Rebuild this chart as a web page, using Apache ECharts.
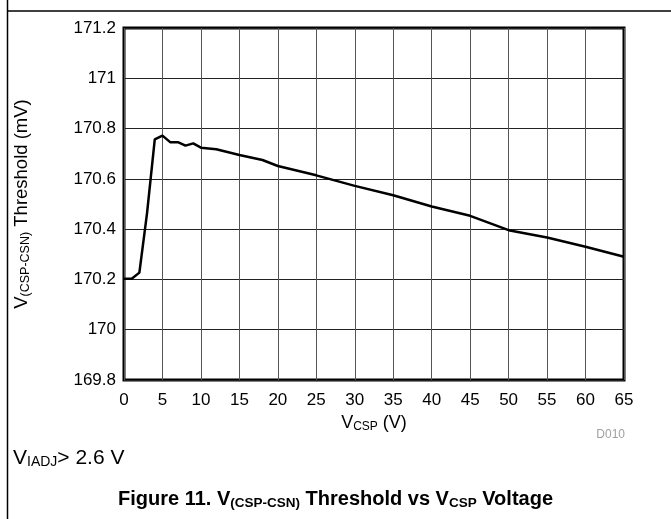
<!DOCTYPE html>
<html>
<head>
<meta charset="utf-8">
<script src="https://cdn.jsdelivr.net/npm/echarts@6/dist/echarts.min.js"></script>
<style>
html,body{margin:0;padding:0;background:#fff;}
#chart{width:671px;height:519px;}
</style>
</head>
<body>
<div id="chart"></div>
<script>
// Data
var vcsp = [0, 1, 2, 3, 4, 5, 6, 7, 8, 9, 10, 12, 15, 18, 20, 25, 30, 35, 40, 45, 50, 55, 60, 65];
var threshold = [170.203, 170.203, 170.227, 170.465, 170.757, 170.772, 170.746, 170.746, 170.732, 170.741, 170.724, 170.718, 170.695, 170.675, 170.651, 170.614, 170.572, 170.535, 170.49, 170.453, 170.396, 170.367, 170.33, 170.29];
var xTicks = {min: 0, max: 65, interval: 5};
var yTicks = {min: 169.8, max: 171.2, interval: 0.2};

var font = 'Liberation Sans, Arial, sans-serif';
var chart = echarts.init(document.getElementById('chart'), null, {renderer: 'canvas'});
var pts = vcsp.map(function (x, i) { return [x, threshold[i]]; });

chart.setOption({
  animation: false,
  backgroundColor: '#fff',
  grid: {left: 124, right: 47, top: 28, bottom: 139, containLabel: false,
         show: true, borderColor: '#000', borderWidth: 3, backgroundColor: 'transparent'},
  xAxis: {
    type: 'value', min: xTicks.min, max: xTicks.max, interval: xTicks.interval,
    axisLine: {show: false}, axisTick: {show: false},
    splitLine: {show: true, lineStyle: {color: '#555', width: 1}},
    axisLabel: {color: '#000', fontSize: 17, fontFamily: font, margin: 12},
    name: 'V{s|CSP} (V)', nameLocation: 'middle', nameGap: 30,
    nameTextStyle: {color: '#000', fontSize: 18, fontFamily: font,
      rich: {s: {fontSize: 12, fontFamily: font, color: '#000', padding: [8, 0, 0, 0]}}}
  },
  yAxis: {
    type: 'value', min: yTicks.min, max: yTicks.max, interval: yTicks.interval,
    axisLine: {show: false}, axisTick: {show: false},
    splitLine: {show: true, lineStyle: {color: '#222', width: 1}},
    axisLabel: {color: '#000', fontSize: 17, fontFamily: font, margin: 8,
      formatter: function (v) { return String(Math.round(v * 10) / 10); }},
    name: 'V{s|(CSP-CSN)} Threshold (mV)', nameLocation: 'middle', nameGap: 92, nameRotate: 90,
    nameTextStyle: {color: '#000', fontSize: 18.5, fontFamily: font,
      rich: {s: {fontSize: 12.5, fontFamily: font, color: '#000', padding: [8, 0, 0, 0]}}}
  },
  series: [{
    type: 'line', data: pts, symbol: 'none',
    lineStyle: {color: '#000', width: 2.5}, z: 5
  }],
  graphic: [
    {type: 'line', shape: {x1: 7.5, y1: 0, x2: 7.5, y2: 519}, style: {stroke: '#000', lineWidth: 1.5}},
    {type: 'line', shape: {x1: 7, y1: 11, x2: 671, y2: 11}, style: {stroke: '#000', lineWidth: 1.5}},
    {type: 'text', right: 46, top: 429, style: {text: 'D010', fontSize: 12, fontFamily: font, fill: '#a0a0a0'}},
    {type: 'text', left: 13, top: 448, style: {
      text: 'V{s|IADJ}> 2.6 V', fontSize: 21, fontFamily: font, fill: '#000',
      rich: {s: {fontSize: 14, fontFamily: font, fill: '#000', padding: [8, 0, 0, 0]}}}},
    {type: 'text', left: 'center', top: 489, style: {
      text: 'Figure 11. V{s|(CSP-CSN)} Threshold vs V{s|CSP} Voltage', fontSize: 20, fontWeight: 'bold', fontFamily: font, fill: '#000',
      rich: {s: {fontSize: 13.5, fontWeight: 'bold', fontFamily: font, fill: '#000', padding: [8, 0, 0, 0]}}}}
  ]
});
</script>
</body>
</html>
